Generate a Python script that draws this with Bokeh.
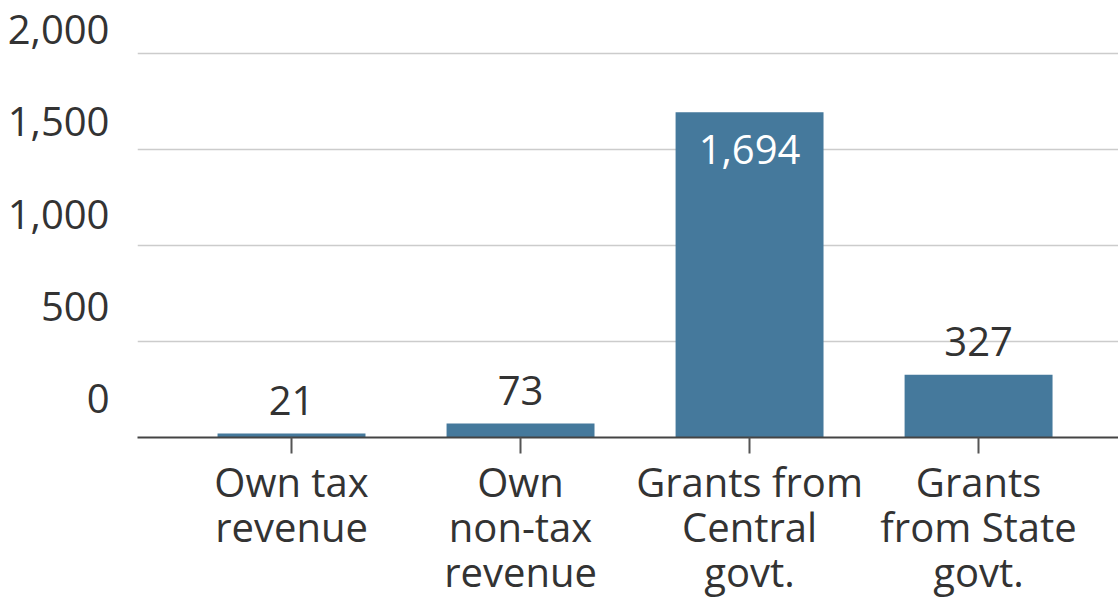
from bokeh.plotting import figure
from bokeh.models import (Range1d, LinearAxis, FixedTicker, ColumnDataSource,
                          NumeralTickFormatter, Grid)
from bokeh.core.properties import value
from bokeh.embed import file_html
from bokeh.resources import INLINE

categories = ["Own tax\nrevenue", "Own\nnon-tax\nrevenue",
              "Grants from\nCentral\ngovt.", "Grants\nfrom State\ngovt."]
values = [21, 73, 1694, 327]
y_ticks = [0, 500, 1000, 1500, 2000]

FONT = "Open Sans"
BAR = "#45799c"
TXT = "#333333"

idx = list(range(len(categories)))
inside = [v > 1000 for v in values]
src = ColumnDataSource(dict(
    x=idx, top=values,
    label=[f"{v:,}" for v in values],
    color=["white" if i else TXT for i in inside],
    yoff=[37 if i else -33 for i in inside],
))

p = figure(width=1118, height=604, output_backend="svg", toolbar_location=None,
           x_range=Range1d(-0.6725, 3.611), y_range=Range1d(0, 2276),
           y_axis_location=None,
           min_border_left=137, min_border_right=0, min_border_top=0,
           min_border_bottom=167)
p.outline_line_color = None
p.background_fill_color = "white"
p.border_fill_color = "white"

# remove default grids, add own horizontal grid
p.center = [c for c in p.center if not isinstance(c, Grid)]
p.add_layout(Grid(dimension=1, ticker=FixedTicker(ticks=y_ticks),
                  grid_line_color="#cccccc", grid_line_width=1.5))

# y labels sit above their grid lines: separate label range
p.extra_y_ranges = {"lab": Range1d(-211, 2157)}
yax = LinearAxis(y_range_name="lab", ticker=FixedTicker(ticks=y_ticks),
                 formatter=NumeralTickFormatter(format="0,0"))
yax.axis_line_color = None
yax.major_tick_line_color = None
yax.minor_tick_line_color = None
yax.major_label_standoff = 22
yax.major_label_text_font = FONT
yax.major_label_text_font_size = "40px"
yax.major_label_text_color = TXT
p.add_layout(yax, "left")

xax = p.xaxis[0]
xax.ticker = FixedTicker(ticks=idx)
xax.major_label_overrides = {i: c for i, c in zip(idx, categories)}
xax.axis_line_color = "#444444"
xax.axis_line_width = 2
xax.major_tick_line_color = "#555555"
xax.major_tick_line_width = 2
xax.major_tick_out = 16
xax.major_tick_in = 0
xax.minor_tick_line_color = None
xax.major_label_standoff = 0
xax.major_label_text_font = FONT
xax.major_label_text_font_size = "40px"
xax.major_label_text_color = TXT
xax.major_label_text_line_height = 0.82

p.vbar(x="x", top="top", bottom=0, width=0.646, source=src,
       fill_color=BAR, line_color=None)
p.text(x="x", y="top", text="label", source=src, y_offset="yoff",
       text_align="center", text_baseline="alphabetic",
       text_font=value(FONT), text_font_size="40px", text_color="color")

open("out.html", "w").write(file_html(p, INLINE))
